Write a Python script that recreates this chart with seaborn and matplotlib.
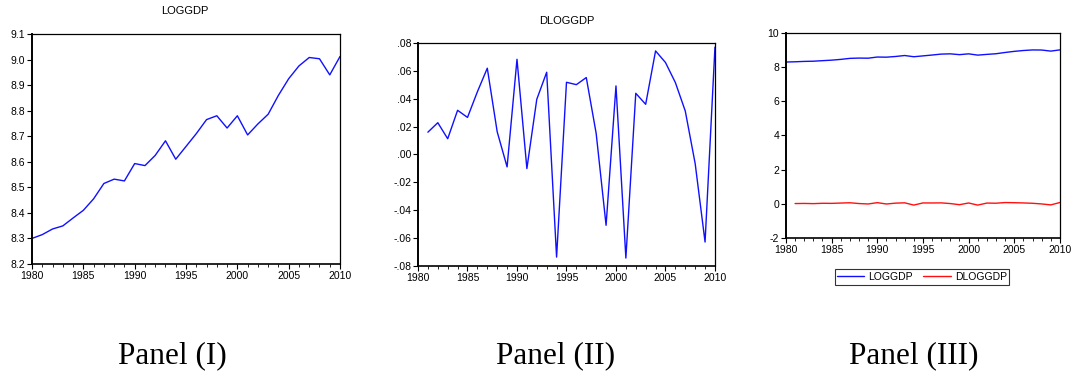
import numpy as np
import pandas as pd
import matplotlib
matplotlib.use("Agg")
import matplotlib.pyplot as plt
from matplotlib.ticker import MultipleLocator, FuncFormatter
from matplotlib.lines import Line2D
import seaborn as sns

years = list(range(1980, 2011))
loggdp = [8.300, 8.315, 8.337, 8.349, 8.380, 8.410, 8.455, 8.515, 8.532, 8.525,
          8.593, 8.585, 8.625, 8.682, 8.610, 8.660, 8.710, 8.765, 8.780, 8.732,
          8.780, 8.705, 8.748, 8.786, 8.860, 8.925, 8.975, 9.008, 9.003, 8.940,
          9.012]
dyears = list(range(1981, 2011))
dloggdp = [0.016, 0.0228, 0.0113, 0.0317, 0.0266, 0.045, 0.0619, 0.0163, -0.0089,
           0.0683, -0.0101, 0.0396, 0.059, -0.0736, 0.0518, 0.0501, 0.0552, 0.0151,
           -0.0508, 0.0492, -0.0743, 0.0439, 0.036, 0.0743, 0.066, 0.0516, 0.0312,
           -0.0065, -0.0628, 0.077]
panel_labels = ["Panel (I)", "Panel (II)", "Panel (III)"]

sns.set_theme(style="ticks")
plt.rcParams['font.family'] = ['Liberation Sans', 'DejaVu Sans']
plt.rcParams['text.color'] = 'black'
plt.rcParams['xtick.color'] = 'black'
plt.rcParams['ytick.color'] = 'black'

df1 = pd.DataFrame({"year": years, "value": loggdp})
df2 = pd.DataFrame({"year": dyears, "value": dloggdp})
df3 = pd.concat([
    pd.DataFrame({"year": years, "value": loggdp, "series": "LOGGDP"}),
    pd.DataFrame({"year": dyears, "value": dloggdp, "series": "DLOGGDP"}),
])

fig = plt.figure(figsize=(10.74, 3.78), dpi=100)
ax1 = fig.add_axes([0.0298, 0.3016, 0.2868, 0.6085])
ax2 = fig.add_axes([0.3892, 0.2963, 0.2765, 0.590])
ax3 = fig.add_axes([0.7318, 0.3704, 0.2551, 0.5423])

sns.lineplot(data=df1, x="year", y="value", ax=ax1, color="#1010ff", lw=1.0)
sns.lineplot(data=df2, x="year", y="value", ax=ax2, color="#1010ff", lw=1.0)
sns.lineplot(data=df3, x="year", y="value", hue="series", ax=ax3,
             palette={"LOGGDP": "#1010ff", "DLOGGDP": "#ff1010"}, lw=1.0,
             legend=False)

def style(ax, ymin, ymax, ystep, fmt=None):
    ax.set_xlim(1980, 2010)
    ax.set_ylim(ymin, ymax)
    ax.xaxis.set_major_locator(MultipleLocator(5))
    ax.xaxis.set_minor_locator(MultipleLocator(1))
    ax.yaxis.set_major_locator(MultipleLocator(ystep))
    if fmt is not None:
        ax.yaxis.set_major_formatter(FuncFormatter(fmt))
    ax.set_xlabel("")
    ax.set_ylabel("")
    ax.tick_params(axis="both", which="major", labelsize=7.5, length=3.5,
                   width=0.8, direction="out", pad=1.5, colors="black")
    ax.tick_params(axis="x", which="minor", length=2, width=0.6, direction="out")
    for s in ["top", "right", "bottom"]:
        ax.spines[s].set_visible(True)
        ax.spines[s].set_color("black")
        ax.spines[s].set_linewidth(0.9)
    ax.spines["left"].set_color("black")
    ax.spines["left"].set_linewidth(1.4)
    ax.spines["bottom"].set_linewidth(1.2)
    ax.set_facecolor("white")

style(ax1, 8.2, 9.1, 0.1, lambda v, p: f"{v:.1f}")

def dfmt(v, p):
    s = f"{v:.2f}"
    return s.replace("0.", ".")
style(ax2, -0.08, 0.08, 0.02, dfmt)
style(ax3, -2, 10, 2, lambda v, p: f"{v:.0f}")

fig.text(185 / 1074, 1 - 11 / 378, "LOGGDP", ha="center", va="center", fontsize=8)
fig.text(567 / 1074, 1 - 21 / 378, "DLOGGDP", ha="center", va="center", fontsize=8)

handles = [Line2D([], [], color="#1010ff", lw=1.0), Line2D([], [], color="#ff1010", lw=1.0)]
leg = fig.legend(handles, ["LOGGDP", "DLOGGDP"], loc="center",
                 bbox_to_anchor=(922 / 1074, 1 - 277 / 378), ncol=2, fontsize=7.5,
                 frameon=True, fancybox=False, edgecolor="black", handlelength=2.6,
                 borderpad=0.25, columnspacing=1.0, handletextpad=0.4)
leg.get_frame().set_linewidth(0.8)

for x, lab in zip([172, 556, 914], panel_labels):
    fig.text(x / 1074, 1 - 356 / 378, lab, ha="center", va="center",
             fontsize=22.5, family=["Liberation Serif", "DejaVu Serif"])

fig.savefig("out.png", dpi=100, facecolor="white")
